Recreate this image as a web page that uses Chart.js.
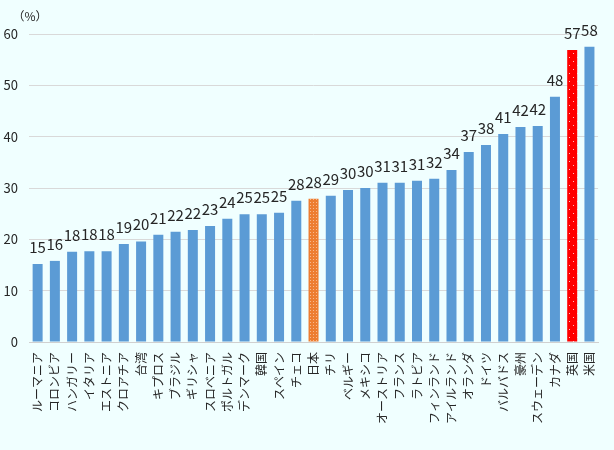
<!DOCTYPE html>
<html lang="ja">
<head>
<meta charset="utf-8">
<script src="https://cdn.jsdelivr.net/npm/chart.js@4.4.0/dist/chart.umd.min.js"></script>
<style>
  html, body { margin: 0; padding: 0; background: #F0FFFF; }
  #wrap { width: 614px; height: 450px; }
</style>
</head>
<body>
<div id="wrap"><canvas id="chart" width="614" height="450"></canvas></div>
<script>
// --- Data ---
const countries = [
  'ルーマニア', 'コロンビア', 'ハンガリー', 'イタリア', 'エストニア', 'クロアチア', '台湾',
  'キプロス', 'ブラジル', 'ギリシャ', 'スロベニア', 'ポルトガル', 'デンマーク', '韓国',
  'スペイン', 'チェコ', '日本', 'チリ', 'ベルギー', 'メキシコ', 'オーストリア', 'フランス',
  'ラトビア', 'フィンランド', 'アイルランド', 'オランダ', 'ドイツ', 'バルバドス', '豪州',
  'スウェーデン', 'カナダ', '英国', '米国'
];
const shares = [
  15.2, 15.8, 17.6, 17.7, 17.7, 19.1, 19.6,
  20.9, 21.5, 21.8, 22.6, 24.0, 24.9, 24.9,
  25.2, 27.5, 27.9, 28.5, 29.6, 30.0, 31.0, 31.0,
  31.4, 31.8, 33.5, 37.0, 38.4, 40.5, 41.9,
  42.1, 47.8, 56.9, 57.5
];
const yTicks = [0, 10, 20, 30, 40, 50, 60];
const unitLabel = '（%）';
const highlightJapan = '日本';
const highlightUK = '英国';

const FONT = '"Noto Sans CJK JP", "Noto Sans", sans-serif';
const TEXT = '#262626';

// dotted fill for highlighted bars
function dotPattern(bg, dot, step) {
  const c = document.createElement('canvas');
  c.width = step; c.height = step;
  const g = c.getContext('2d');
  g.fillStyle = bg;
  g.fillRect(0, 0, step, step);
  g.fillStyle = dot;
  g.fillRect(1, 1, 1, 1);
  if (step > 3) g.fillRect(Math.floor(step / 2) + 1, Math.floor(step / 2) + 1, 1, 1);
  return document.getElementById('chart').getContext('2d').createPattern(c, 'repeat');
}

const barColors = countries.map(name => {
  if (name === highlightJapan) return dotPattern('#ED7D31', '#F7B98F', 3);
  if (name === highlightUK) return dotPattern('#FF0000', '#FFC0C0', 8);
  return '#5B9BD5';
});

// value labels above bars
const valueLabels = {
  id: 'valueLabels',
  afterDatasetsDraw(chart) {
    const ctx = chart.ctx;
    const meta = chart.getDatasetMeta(0);
    ctx.save();
    ctx.font = '15px ' + FONT;
    ctx.fillStyle = TEXT;
    ctx.textAlign = 'center';
    ctx.textBaseline = 'alphabetic';
    meta.data.forEach((bar, i) => {
      ctx.fillText(String(Math.round(shares[i])), bar.x, bar.y - 11);
    });
    ctx.restore();
  }
};

// "(%)" unit at top left
const unitText = {
  id: 'unitText',
  afterDraw(chart) {
    const ctx = chart.ctx;
    ctx.save();
    ctx.font = '12px ' + FONT;
    ctx.fillStyle = TEXT;
    ctx.textAlign = 'center';
    ctx.textBaseline = 'middle';
    ctx.fillText(unitLabel, 30, 16);
    ctx.restore();
  }
};

new Chart(document.getElementById('chart'), {
  type: 'bar',
  data: {
    labels: countries,
    datasets: [{
      data: shares,
      backgroundColor: barColors,
      borderWidth: 0,
      barPercentage: 0.58,
      categoryPercentage: 1.0
    }]
  },
  options: {
    responsive: false,
    animation: false,
    layout: { padding: { top: 34, right: 10, left: 0, bottom: 0 } },
    plugins: {
      legend: { display: false },
      tooltip: { enabled: false }
    },
    scales: {
      x: {
        grid: { display: false, drawTicks: false },
        border: { color: '#D0D0D0' },
        ticks: {
          autoSkip: false,
          minRotation: 90,
          maxRotation: 90,
          padding: 10,
          color: TEXT,
          font: { family: FONT, size: 12 }
        },
        afterFit(scale) { scale.height = 108; }
      },
      y: {
        min: 0,
        max: 60,
        afterBuildTicks(scale) { scale.ticks = yTicks.map(v => ({ value: v })); },
        grid: { color: '#D9D9D9', drawTicks: false },
        border: { display: false },
        ticks: {
          padding: 11,
          color: TEXT,
          font: { family: FONT, size: 13 }
        },
        afterFit(scale) { scale.width = 29; }
      }
    }
  },
  plugins: [valueLabels, unitText]
});
</script>
</body>
</html>
